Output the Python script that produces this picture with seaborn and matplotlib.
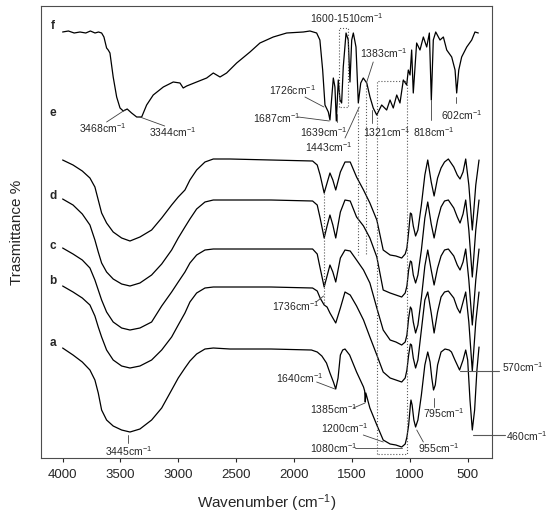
import matplotlib
matplotlib.use('Agg')
import matplotlib.pyplot as plt
import seaborn as sns

# FTIR spectra, transmittance in arbitrary stacked units
wn_f = [4000, 3950, 3900, 3850, 3800, 3760, 3720, 3690, 3663, 3643, 3620, 3606, 3591, 3563,
        3533, 3504, 3476, 3442, 3404, 3360, 3317, 3274, 3217, 3130, 3044, 2986, 2958, 2928,
        2842, 2755, 2698, 2640, 2583, 2496, 2381, 2295, 2180, 2064, 1920, 1863, 1805, 1777,
        1753, 1733, 1704, 1690, 1661, 1647, 1635, 1618, 1603, 1589, 1575, 1551, 1532, 1517,
        1502, 1488, 1465, 1445, 1424, 1402, 1372, 1344, 1316, 1286, 1243, 1200, 1171, 1143,
        1113, 1085, 1056, 1027, 1013, 998, 984, 970, 941, 912, 883, 854, 831, 814, 797, 776,
        739, 710, 681, 638, 609, 595, 577, 552, 508, 465, 437, 408]
t_f = [426, 427, 425, 426, 425, 427, 425, 426, 425, 421, 410, 408, 405, 381,
       361, 350, 347, 349, 345, 341, 341, 353, 363, 371, 376, 375, 370, 372,
       376, 380, 385, 381, 385, 395, 406, 415, 421, 425, 426, 427, 425, 418,
       388, 353, 346, 338, 380, 371, 337, 378, 358, 355, 391, 425, 418, 376,
       418, 425, 411, 355, 375, 380, 375, 361, 350, 343, 353, 348, 358, 350,
       363, 355, 378, 373, 388, 383, 408, 365, 415, 408, 421, 411, 425, 358, 418, 426,
       418, 421, 408, 401, 388, 365, 388, 401, 411, 418, 426, 425]

# shared wavenumber grid for samples b-e
wn_bcde = [4000, 3910, 3830, 3764, 3721, 3692, 3663, 3620, 3563, 3490,
           3418, 3332, 3231, 3144, 3058, 3001, 2943, 2900, 2842, 2770,
           2698, 2554, 2200,
           1840, 1800, 1775, 1740, 1715, 1690, 1665, 1640, 1600, 1560,
           1515, 1460, 1400, 1345, 1285, 1230, 1170, 1120, 1070, 1040,
           1025, 1010, 995, 985, 970, 950, 930, 900, 870, 845,
           815, 790, 760, 730, 700, 667, 620, 590, 566, 540,
           517, 490, 460, 430, 402]
t_e = [298, 293, 287, 280, 271, 258, 245, 235, 226, 220,
       217, 221, 228, 240, 253, 261, 268, 278, 288, 296,
       299, 299, 298,
       297, 293, 283, 265, 275, 285, 278, 268, 286, 296,
       296, 281, 268, 255, 238, 208, 203, 202, 200, 204,
       210, 226, 245, 244, 232, 222, 228, 253, 283, 298,
       276, 262, 280, 290, 296, 299, 291, 283, 279, 286,
       299, 273, 228, 273, 298]
t_d = [259, 253, 244, 233, 218, 206, 195, 186, 179, 174,
       172, 175, 183, 194, 208, 220, 231, 239, 249, 256,
       258, 258, 258,
       257, 253, 240, 220, 232, 243, 233, 220, 246, 258,
       257, 241, 232, 220, 201, 168, 165, 163, 161, 165,
       172, 188, 197, 196, 183, 175, 183, 208, 240, 256,
       234, 220, 238, 251, 257, 258, 250, 241, 235, 244,
       258, 228, 181, 228, 258]
t_c = [210, 204, 198, 190, 178, 168, 158, 146, 136, 130,
       128, 130, 136, 152, 166, 176, 186, 195, 203, 208,
       209, 209, 209,
       209, 204, 190, 171, 182, 193, 186, 176, 200, 208,
       207, 198, 188, 175, 150, 128, 118, 116, 113, 116,
       123, 140, 151, 149, 136, 125, 133, 160, 192, 208,
       188, 173, 190, 202, 208, 209, 202, 193, 188, 196,
       209, 178, 133, 178, 209]
t_b = [172, 166, 160, 153, 142, 131, 121, 108, 98, 92,
       90, 92, 98, 108, 121, 133, 145, 156, 165, 170,
       171, 171, 171,
       170, 167, 160, 153, 151, 145, 140, 135, 150, 166,
       163, 152, 138, 121, 103, 86, 80, 78, 76, 80,
       88, 103, 114, 113, 100, 90, 98, 128, 158, 166,
       145, 125, 146, 161, 166, 167, 160, 150, 145, 156,
       166, 136, 87, 136, 166]

wn_a = [4000, 3910, 3830, 3764, 3721, 3692, 3663, 3620, 3563, 3490,
        3418, 3332, 3231, 3144, 3058, 3001, 2943, 2900, 2842, 2770,
        2698, 2554, 2200,
        1850, 1800, 1760, 1720, 1690, 1660, 1640, 1620, 1600, 1580,
        1560, 1520, 1460, 1400, 1390, 1385, 1380, 1345, 1285, 1230,
        1170, 1120, 1070, 1040, 1025, 1010, 995, 990, 980, 965,
        950, 930, 900, 870, 845, 825, 810, 795, 780, 760,
        730, 696, 660, 640, 610, 570, 540, 517, 500, 480,
        460, 440, 420, 402]
t_a = [110, 103, 96, 88, 78, 65, 48, 38, 32, 28,
       26, 29, 38, 50, 68, 80, 90, 97, 104, 109,
       110, 109, 109,
       108, 106, 102, 95, 85, 76, 69, 80, 103, 108,
       109, 103, 86, 71, 67, 56, 65, 50, 33, 18,
       14, 13, 11, 14, 21, 33, 53, 58, 53, 38,
       31, 38, 63, 93, 106, 96, 80, 68, 73, 93,
       106, 109, 108, 106, 98, 88, 98, 108, 98, 58,
       28, 48, 88, 111]

curve_names = ['a', 'b', 'c', 'd', 'e', 'f']
curve_label_pos = [(4086, 115), (4086, 177), (4086, 212), (4086, 262), (4081, 345), (4081, 432)]

# (text, text position, line start, line end)
peak_notes = [
    ('3468', (3652, 330), (3620, 336), (3462, 348)),
    ('3344', (3047, 326), (3118, 332), (3332, 341)),
    ('1726', (2010, 368), (1906, 361), (1742, 351)),
    ('1687', (2150, 340), (1964, 341), (1696, 337)),
    ('1639', (1748, 326), (1632, 336), (1632, 344)),
    ('1443', (1704, 311), (1560, 320), (1437, 351)),
    ('1383', (1229, 405), (1316, 396), (1372, 376)),
    ('1321', (1200, 326), (1329, 335), (1329, 348)),
    ('818', (797, 326), (819, 338), (819, 358)),
    ('602', (551, 343), (601, 355), (601, 361)),
    ('3445', (3433, 7), (3433, 15), (3433, 23)),
    ('1640', (1949, 80), (1805, 76), (1647, 69)),
    ('1385', (1661, 49), (1488, 50), (1387, 55)),
    ('1200', (1560, 30), (1402, 23), (1229, 16)),
    ('1080', (1661, 10), (1474, 10), (1070, 10)),
    ('955', (754, 10), (883, 16), (940, 28)),
    ('795', (711, 45), (788, 51), (788, 60)),
    ('1736', (1985, 152), (1810, 156), (1745, 162)),
]
side_notes = [('570', (205, 91), (568, 87), (225, 87)),
              ('460', (168, 22), (451, 23), (175, 23))]

sns.set_style('ticks')
plt.rcParams['font.family'] = ['Liberation Sans', 'DejaVu Sans']
plt.rcParams['mathtext.default'] = 'regular'

fig = plt.figure(figsize=(5.5, 5.17), dpi=100)
ax = fig.add_axes([0.0745, 0.1141, 0.82, 0.8743])

spectra = [(wn_a, t_a), (wn_bcde, t_b), (wn_bcde, t_c), (wn_bcde, t_d), (wn_bcde, t_e), (wn_f, t_f)]
for wn, t in spectra:
    sns.lineplot(x=wn, y=t, ax=ax, color='black', linewidth=0.9, sort=False)

for name, (x, y) in zip(curve_names, curve_label_pos):
    ax.text(x, y, name, fontsize=8.5, fontweight='bold', ha='center', va='center')

cm = 'cm$^{-1}$'
for lab, txt, p0, p1 in peak_notes:
    ax.text(txt[0], txt[1], lab + cm, fontsize=7.5, ha='center', va='center')
    ax.plot([p0[0], p1[0]], [p0[1], p1[1]], color='0.25', lw=0.6)
for lab, txt, p0, p1 in side_notes:
    ax.text(txt[0], txt[1], lab + cm, fontsize=7.5, ha='left', va='center', clip_on=False)
    ax.plot([p0[0], p1[0]], [p0[1], p1[1]], color='0.35', lw=0.8, clip_on=False)
ax.text(1545, 440, '1600-1510' + cm, fontsize=7.5, ha='center', va='center')

# dotted guides
dot = dict(color='0.35', lw=0.8, ls=':')
ax.plot([1609, 1609, 1532, 1532, 1609], [351, 430, 430, 351, 351], **dot)
ax.plot([1286, 1286, 1020, 1020, 1286], [4, 377, 377, 4, 4], **dot)
ax.plot([1444, 1444], [351, 203], **dot)
ax.plot([1381, 1381], [376, 203], **dot)
ax.plot([1739, 1739], [265, 153], **dot)

ax.set_xlim(4187, 290)
ax.set_ylim(0, 452)
ax.set_xticks([4000, 3500, 3000, 2500, 2000, 1500, 1000, 500])
ax.set_yticks([])
ax.tick_params(axis='x', direction='out', length=3, width=0.8, labelsize=9.5, pad=5)
for s in ax.spines.values():
    s.set_visible(True)
    s.set_linewidth(0.8)
    s.set_color('0.3')
ax.set_xlabel('Wavenumber (cm$^{-1}$)', fontsize=11, labelpad=8)
ax.set_ylabel('Trasmittance %', fontsize=11, labelpad=12)

fig.savefig('out.png', dpi=100)
